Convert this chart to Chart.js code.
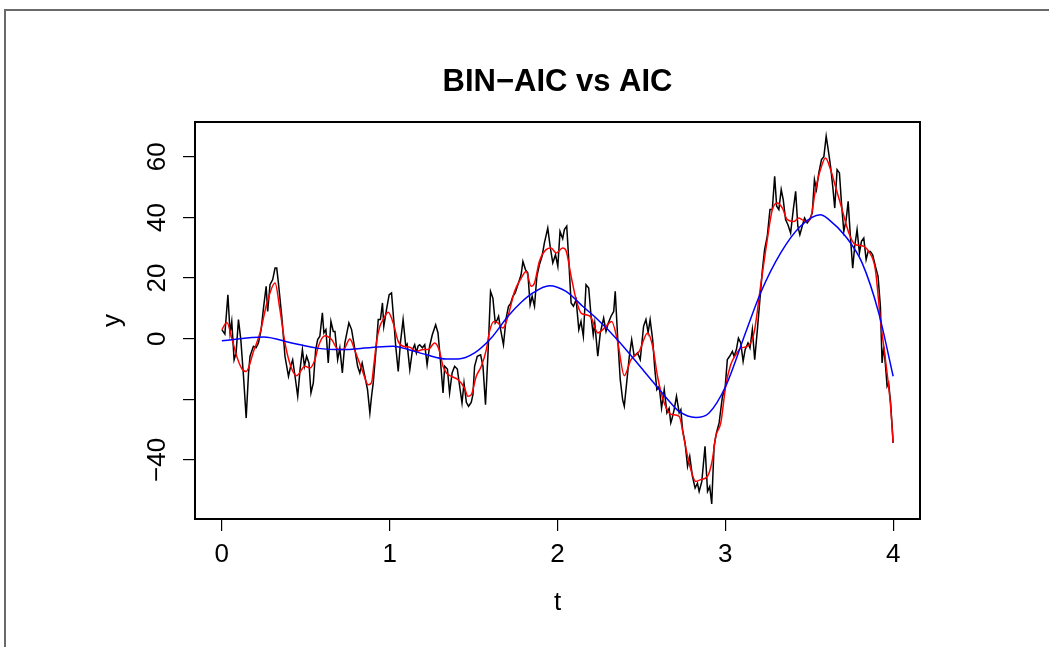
<!DOCTYPE html>
<html><head><meta charset="utf-8">
<script src="https://cdn.jsdelivr.net/npm/chart.js@4.4.1/dist/chart.umd.min.js"></script>
<style>html,body{margin:0;padding:0;background:#fff;}canvas{display:block;}</style>
</head><body>
<canvas id="c" width="1049" height="647"></canvas>
<script>
// ---- data ----
const blackT = [0.000,0.018,0.036,0.049,0.059,0.073,0.085,0.099,0.113,0.129,0.145,0.159,0.168,0.188,0.204,0.218,0.234,0.248,0.264,0.273,0.287,0.303,0.317,0.327,0.337,0.357,0.376,0.397,0.410,0.422,0.436,0.452,0.466,0.480,0.492,0.505,0.519,0.531,0.545,0.559,0.571,0.584,0.599,0.608,0.620,0.634,0.650,0.664,0.674,0.690,0.703,0.718,0.733,0.757,0.773,0.793,0.809,0.822,0.836,0.852,0.868,0.882,0.892,0.902,0.917,0.932,0.945,0.957,0.965,0.981,0.997,1.011,1.024,1.036,1.051,1.064,1.080,1.096,1.104,1.120,1.136,1.149,1.159,1.169,1.179,1.195,1.209,1.223,1.238,1.254,1.274,1.288,1.302,1.318,1.328,1.344,1.357,1.372,1.387,1.403,1.417,1.431,1.443,1.457,1.470,1.486,1.496,1.506,1.522,1.542,1.556,1.571,1.586,1.601,1.615,1.629,1.641,1.649,1.661,1.678,1.694,1.708,1.720,1.734,1.748,1.764,1.783,1.794,1.809,1.823,1.837,1.849,1.863,1.877,1.892,1.908,1.922,1.942,1.956,1.972,1.988,2.002,2.015,2.031,2.041,2.055,2.067,2.081,2.095,2.111,2.127,2.140,2.154,2.170,2.186,2.200,2.213,2.222,2.240,2.255,2.275,2.289,2.303,2.319,2.335,2.344,2.358,2.374,2.388,2.398,2.414,2.428,2.442,2.457,2.477,2.493,2.513,2.527,2.540,2.552,2.567,2.580,2.592,2.606,2.620,2.636,2.652,2.665,2.675,2.681,2.695,2.709,2.725,2.735,2.745,2.760,2.775,2.788,2.804,2.820,2.834,2.844,2.860,2.879,2.894,2.907,2.919,2.933,2.947,2.963,2.983,2.998,3.012,3.026,3.042,3.052,3.066,3.078,3.092,3.106,3.118,3.135,3.147,3.161,3.175,3.191,3.206,3.221,3.234,3.250,3.266,3.280,3.294,3.306,3.319,3.333,3.345,3.359,3.373,3.389,3.405,3.419,3.432,3.444,3.458,3.472,3.488,3.503,3.518,3.531,3.543,3.557,3.573,3.587,3.601,3.613,3.627,3.640,3.652,3.666,3.680,3.692,3.706,3.720,3.732,3.745,3.759,3.771,3.785,3.799,3.811,3.825,3.839,3.851,3.864,3.878,3.894,3.910,3.924,3.934,3.944,3.954,3.964,3.973,3.985,4.000];
const blackY = [3.0,1.5,14.5,1.9,5.7,-7,-4.7,6.3,-0.3,-12.4,-26.2,-11.3,-5.8,-2.5,-3,-1.4,3,10.1,17.3,9,17.8,19.5,23.3,23.3,18.4,7.4,-5.8,-12.4,-9.1,-7,-12.4,-19,-10.2,-3.6,-9.1,-5.8,-8,-17.9,-14.6,-3.6,-0.3,0.8,8.5,1.9,3,-8,5.7,2.4,2.4,-6.9,-3.1,-11.3,-1.4,5.2,3,-3.6,-9.1,-11.3,-8,-12.4,-16.8,-24.5,-19,-14.6,-4.7,6.3,6.3,11.8,4.1,9.6,14.5,15.1,6.3,-2.5,-10.8,-1.4,6.3,-2.5,-1.8,-10.2,-3.6,-2,-4.7,-2.5,-2,-3,-2,-8.6,-2.5,1.3,4.6,1.9,-6.9,-17.9,-9.1,-10,-17.9,-11.3,-9.1,-10,-15.7,-21.2,-14.6,-21,-22.3,-21,-18.5,-9.1,-5.8,-5.3,-9.1,-21.8,-4.7,15.6,13.4,5.2,6.3,7.4,3,-2,6.8,10.7,11.5,14,15.1,17.8,21.1,25.5,22.8,21.7,11.2,14,10.7,20.6,24.4,27.2,31.6,36.5,30.5,25,27.7,23.9,35.4,33,36,37.1,26.1,11.8,10.7,12.9,3,5.7,0.8,17.8,16.7,7.4,1.3,5.2,-5.8,1.9,6.8,2.4,5.2,7.4,9,15.6,0.8,-13.5,-20.1,-22.3,-13.5,-5.8,-0.3,-5.8,-4.7,-6.9,4.1,6.3,2,6.3,-0.3,-10.2,-16.8,-15.7,-22.9,-16.8,-24.5,-23,-27.8,-26.7,-23.4,-19,-24.5,-23.4,-30,-34.4,-42.1,-38.8,-45.4,-49.3,-47.7,-50.4,-47.1,-35.5,-50.4,-48.8,-54.5,-35.5,-31.1,-27.8,-19,-16.8,-6.9,-5.8,-4.2,-5.8,-3.6,0.2,-1.4,-7.5,-3.6,-1.4,-3.1,3,-6.9,3,12.9,22.8,29.4,33.8,42.6,42.6,53.6,43.7,42.6,49.2,45.9,39.3,37.6,34.9,42.6,48.6,37.1,34.3,37.1,39.8,38.2,39.3,41.5,52.5,49.2,54.7,59.1,60,66.8,62.4,56.9,50.3,43.1,55.8,54.7,44.8,35.4,39.3,45.3,33.8,23.3,30.5,36,28.3,32.1,33.2,26.1,28.8,28.8,27.7,23.9,20.6,10.7,-8,-2.5,-8.6,-15.7,-14.6,-21.2,-34.4];

const redT = [0.000,0.030,0.060,0.090,0.120,0.145,0.190,0.228,0.270,0.317,0.345,0.376,0.410,0.446,0.495,0.525,0.555,0.575,0.614,0.654,0.694,0.724,0.763,0.793,0.842,0.872,0.892,0.905,0.922,0.941,0.961,0.991,1.021,1.051,1.080,1.120,1.159,1.199,1.229,1.268,1.294,1.318,1.338,1.367,1.407,1.446,1.466,1.486,1.516,1.546,1.576,1.595,1.621,1.645,1.675,1.705,1.744,1.784,1.813,1.843,1.863,1.892,1.932,1.962,1.992,2.031,2.051,2.081,2.111,2.140,2.170,2.200,2.240,2.279,2.323,2.358,2.398,2.438,2.487,2.537,2.567,2.596,2.626,2.665,2.685,2.725,2.755,2.784,2.824,2.854,2.894,2.923,2.943,2.973,3.002,3.032,3.062,3.092,3.131,3.171,3.210,3.250,3.280,3.310,3.340,3.369,3.409,3.438,3.478,3.508,3.537,3.567,3.597,3.627,3.656,3.696,3.736,3.775,3.815,3.854,3.894,3.924,3.954,3.983,4.000];
const redY = [3.0,5.3,0,-6,-10,-10.8,-4,2,12,18.4,10,-1.4,-9,-12.2,-9.1,-9.7,-6.9,-2.5,1,-0.3,-3.6,-3.6,-0.1,-4,-11.3,-15.2,-14.5,-9,-1,4,6.3,8.7,5.2,-0.9,-2.5,-2.8,-4.2,-3.6,-3.6,-1.4,-3.6,-9.1,-11.3,-12.4,-13.5,-16.3,-19,-18.5,-12.4,-9.1,-3.6,2.4,5.7,5.2,3.5,7.4,15.6,20,22.2,17.3,18.4,25.5,29.4,29.9,28.3,29.9,29,20.6,12.9,8.5,7.9,7,1.9,3.5,5.7,-0.9,-12.2,-6.9,-4.2,1.9,-2.5,-12.4,-19.6,-24.5,-25.1,-25.6,-33.3,-41,-47.1,-46.5,-45.4,-39.9,-32.2,-27.8,-15.7,-8.6,-5.3,-3.1,-2.5,1.9,17.3,32.7,42.6,44.8,43.1,39.3,38.7,39.8,38.7,39.8,49,55.8,59.6,55.8,50.3,42.6,34.9,31,30.7,28.8,22.8,6.3,-6.9,-21.2,-34.4];

const blueT = [0,0.248,0.416,0.575,0.713,0.892,1.021,1.100,1.219,1.338,1.407,1.506,1.605,1.705,1.784,1.853,1.952,2.051,2.150,2.230,2.358,2.517,2.675,2.725,2.824,2.903,3.002,3.120,3.210,3.330,3.448,3.567,3.617,3.716,3.815,3.914,4.000];
const blueY = [-0.7,0.55,-1.4,-3.2,-3.6,-2.9,-2.5,-3.4,-5.3,-6.7,-6.7,-4.7,0.2,7.4,12.0,15.1,17.5,15.6,10.7,6.8,-0.4,-10.8,-21.2,-24,-26,-24.5,-15.7,1.9,15.1,28.3,37.1,40.9,39.3,33.8,25,8.5,-12.4];

const xTicks = [0,1,2,3,4];
const yTicks = [-40,-20,0,20,40,60];
const yTickLabels = ['\u221240','','0','20','40','60'];
const titleText = 'BIN\u2212AIC vs AIC';
const xLabel = 't';
const yLabel = 'y';

// ---- chart ----
const FONT = '"Liberation Sans", Arial, Helvetica, sans-serif';
const pts = (ts, ys) => ts.map((t, i) => ({x: t, y: ys[i]}));

const overlay = {
  id: 'overlay',
  beforeDraw(chart) {
    const ctx = chart.ctx;
    ctx.save(); ctx.fillStyle = '#fff'; ctx.fillRect(0, 0, chart.width, chart.height); ctx.restore();
  },
  afterDraw(chart) {
    const {ctx, chartArea: a} = chart;
    ctx.save();
    ctx.strokeStyle = '#000'; ctx.lineWidth = 2;
    ctx.strokeRect(a.left, a.top, a.right - a.left, a.bottom - a.top);
    ctx.strokeStyle = '#6a6a6a'; ctx.lineWidth = 2;
    ctx.beginPath(); ctx.moveTo(5, 700); ctx.lineTo(5, 10); ctx.lineTo(1100, 10); ctx.stroke();
    ctx.fillStyle = '#000'; ctx.textAlign = 'center'; ctx.textBaseline = 'middle';
    const cx = (a.left + a.right) / 2;
    ctx.font = 'bold 31px ' + FONT;
    ctx.fillText(titleText, cx, 82);
    ctx.font = '26px ' + FONT;
    ctx.fillText(xLabel, cx, 603);
    ctx.translate(113, (a.top + a.bottom) / 2);
    ctx.rotate(-Math.PI / 2);
    ctx.fillText(yLabel, 0, 0);
    ctx.restore();
  }
};

const tickGrid = {display: true, drawOnChartArea: false, drawTicks: true, tickLength: 12, color: '#000', lineWidth: 1.2};

new Chart(document.getElementById('c'), {
  type: 'line',
  data: {
    datasets: [
      {data: pts(blueT, blueY), borderColor: '#0000ff', borderWidth: 1.5, pointRadius: 0, cubicInterpolationMode: 'monotone', fill: false},
      {data: pts(redT, redY), borderColor: '#ff0000', borderWidth: 1.5, pointRadius: 0, cubicInterpolationMode: 'monotone', fill: false},
      {data: pts(blackT, blackY), borderColor: '#000000', borderWidth: 1.5, pointRadius: 0, tension: 0, fill: false}
    ]
  },
  options: {
    responsive: false, animation: false, devicePixelRatio: 1,
    layout: {padding: {left: 0, right: 129, top: 122, bottom: 0}},
    plugins: {legend: {display: false}, tooltip: {enabled: false}, title: {display: false}},
    scales: {
      x: {
        type: 'linear', min: -0.16, max: 4.16,
        afterBuildTicks: s => { s.ticks = xTicks.map(v => ({value: v})); },
        afterFit: s => { s.height = 128; },
        grid: tickGrid, border: {display: false},
        ticks: {color: '#000', font: {family: FONT, size: 26}, padding: 8, maxRotation: 0, autoSkip: false, callback: v => String(v)}
      },
      y: {
        type: 'linear', min: -59.5, max: 71.5,
        afterBuildTicks: s => { s.ticks = yTicks.map(v => ({value: v})); },
        afterFit: s => { s.width = 195; },
        grid: tickGrid, border: {display: false},
        ticks: {color: '#000', font: {family: FONT, size: 26}, minRotation: 90, maxRotation: 90, crossAlign: 'center', autoSkip: false,
          callback: (v, i) => yTickLabels[i]}
      }
    }
  },
  plugins: [overlay]
});
</script>
</body></html>
